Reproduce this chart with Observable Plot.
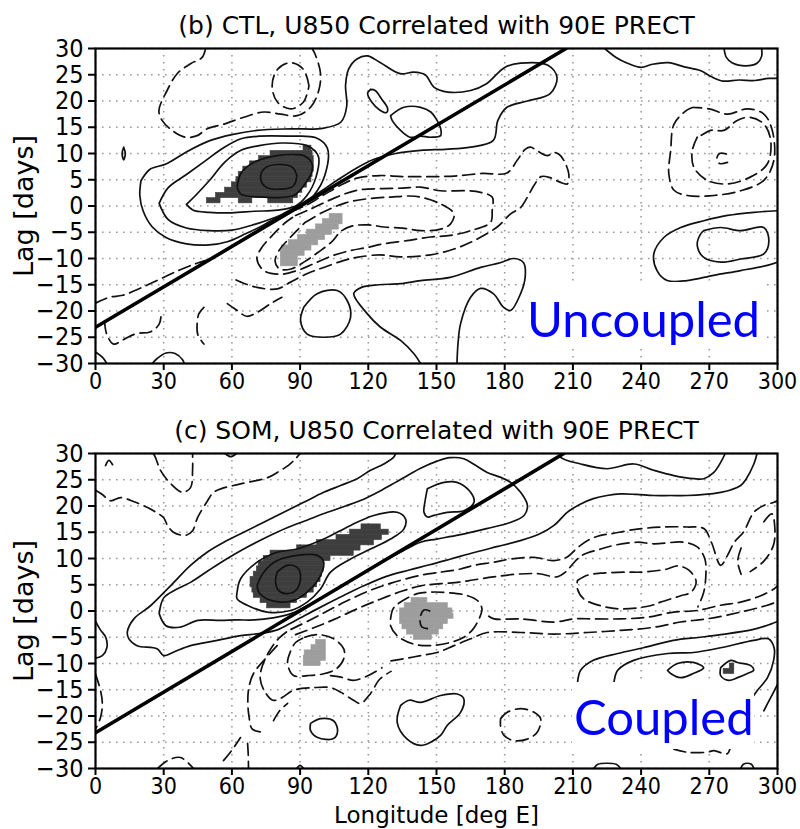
<!DOCTYPE html>
<html><head><meta charset="utf-8">
<script src="https://cdn.jsdelivr.net/npm/d3@7"></script>
<script src="https://cdn.jsdelivr.net/npm/@observablehq/plot@0.6"></script>
<style>
html,body{margin:0;padding:0;background:#fff;}
#wrap{position:relative;width:800px;height:829px;overflow:hidden;background:#fff;}
.panel{position:absolute;left:0;}
.box{position:absolute;background:#fff;}
.tag{position:absolute;color:#0000ff;font-family:Lato,"Open Sans",sans-serif;font-size:49px;line-height:49px;white-space:nowrap;}
</style></head><body>
<div id="wrap">
  <div id="p1" class="panel" style="top:0"></div>
  <div id="p2" class="panel" style="top:415px"></div>
  <div class="box" style="left:525px;top:282px;width:238px;height:67px"></div>
  <div class="tag" style="left:527px;top:294px">Uncoupled</div>
  <div class="box" style="left:572px;top:682px;width:182px;height:67px"></div>
  <div class="tag" style="left:574px;top:692px">Coupled</div>
</div>
<script>
// ---------- axes ----------
const lonTicks = [0,30,60,90,120,150,180,210,240,270,300];
const lagTicks = [-30,-25,-20,-15,-10,-5,0,5,10,15,20,25,30];

// ---------- titles ----------
const titleCTL = "(b) CTL, U850 Correlated with 90E PRECT";
const titleSOM = "(c) SOM, U850 Correlated with 90E PRECT";
const yLabel = "Lag [days]";
const xLabel = "Longitude [deg E]";

// ---------- phase-speed reference lines ----------
const ctlPhaseLon = [0, 207];
const ctlPhaseLag = [-23.1, 30];
const somPhaseLon = [0, 206];
const somPhaseLag = [-23.2, 30];

// ---------- shading rows: [lag, lon from, lon to] ----------
const ctlDark = [[11,91.5,95],[10,77,95.5],[9,72,96],[8,68,96],[7,65,96],[6,63,95.5],[5,62,95],[4,60,93],[3,57,91],[2,53,89],[1,49,55],[1,63,69],[1,76,87]];
const ctlLight = [[-2,103,108.7],[-3,100,108.7],[-4,97,107],[-5,93,104],[-6,89,101],[-7,85,98],[-8,82,95],[-9,81.5,92],[-10,81.5,89],[-11,81.5,89]];
const somDark = [[16,117,125.5],[15,112,129],[14,106,126],[13,97.5,122.5],[12,88.7,116.6],[11,77,113.6],[10,74,103.4],[9,71.8,100.4],[8,71,100.4],[7,69.6,99.7],[6,68.2,99],[5,68.2,97.5],[4,69,96],[3,69.6,93],[2,72.6,88.7],[1,75.5,85.8],[-10.5,279,281],[-11.5,276.3,281]];
const somLight = [[2,139,146],[1,136,155],[0,134,157],[-1,134,157.5],[-2,134,155],[-3,135,153],[-4,137,151],[-5,140,148],[-6,97,101.3],[-7,95,101.3],[-8,92,101.3],[-9,91.6,101.3],[-10,91.6,99]];

// ---------- contour lines: [lon, lag] ----------
const ctlSolid = [
 [[20,4.8],[19.5,2],[21,-1],[25,-4],[31,-6],[40,-7.2],[50,-7.4],[58,-6.8],[66,-5.3],[74,-3.6],[82,-1.6],[90,0.3],[98,2.5],[106,4.8],[114,7],[122,8.8],[132,10],[143,10.6],[154,10.8],[165,11.2],[175,12.5],[177,16.3],[181,18.8],[190,20],[200,21.4],[203,24.5],[199,26.8],[187,27.2],[180,26.4],[172,23.3],[165,22],[155,21.7],[149,22.6],[145,25],[140,25.5],[134,25.2],[125,27.4],[119.5,28.6],[115,28],[111.4,26.1],[110,23],[110.5,19],[108,16],[100,14.8],[86,14.7],[71,14.4],[60,13.6],[50,12.4],[40,10.3],[31,8],[24,7],[20,4.8]],
 [[28,0.5],[32,3.5],[40,6],[48,8.5],[56,11],[64,12.8],[72,13.3],[85,13.3],[97,13],[102,11],[101,6],[96,2],[90,-0.3],[80,-2],[70,-3.5],[60,-4.6],[50,-4.7],[40,-4.2],[32,-2.6],[28,0.5]],
 [[40,0.3],[44,2],[50,4.8],[57,8.4],[64,10.6],[72,11.5],[82,12],[93,11.5],[98,9.5],[97,5.5],[93,2],[88,0],[80,-0.8],[70,-1],[60,-1.3],[50,-1.2],[43,-0.8],[40,0.3]],
 [[62.3,3.6],[63.8,6.1],[67,7.6],[71.1,8.6],[80,9.6],[88,9.8],[91.6,9.6],[95.3,8],[95,6.3],[93.1,4.8],[90,3],[87.2,2],[80,1.6],[74,1.7],[67,1.9],[63.8,2.3],[62.3,3.6]],
 [[88.6,5.8],[86.5,7.4],[80.5,7.9],[74.5,7.2],[72.6,5.3],[75,3.6],[81,3.2],[87,3.8],[88.6,5.8]],
 [[12.4,11.2],[13.1,10],[12.4,8.8],[11.7,10],[12.4,11.2]],
 [[121,22.2],[119.7,21.5],[121.5,19.8],[125,18.3],[128,17.8],[128.5,18.6],[126,20.3],[123,22],[121,22.2]],
 [[129.8,17.2],[135.7,18.8],[143,18.8],[147.5,17.9],[150,16.5],[151.8,14.8],[151.8,13.4],[147.4,13.1],[143,13.3],[138.3,13.1],[134.2,14.4],[130.5,16.3],[129.8,17.2]],
 [[224,30],[229,28.3],[234,27.2],[240,26.4],[245,27],[252,27.3],[259,26.5],[266,25.8],[271,24.6],[276,23.8],[283,24],[290,23.9],[296,24.3],[300,24.3]],
 [[276.5,30],[277.5,28.3],[280,27.3],[286,26.7],[291,27.2],[293,28.5],[293,30]],
 [[300,-0.9],[289.6,-1.2],[278,-1.8],[267.6,-2.8],[257.4,-4.1],[250,-6],[245.6,-9.1],[247,-12.3],[251.5,-14.2],[260.3,-14.2],[272,-13.2],[283.8,-12.3],[295.5,-11.3],[300,-10.7]],
 [[267.6,-4.7],[275,-4.1],[283.8,-4.7],[294,-4.1],[296.2,-6.6],[294,-9.1],[283.8,-10.1],[275,-10.7],[267.6,-9.8],[264.7,-7.5],[266.2,-5.3],[267.6,-4.7]],
 [[143,-30],[140,-28.1],[134.2,-25.6],[125.4,-23.1],[119.5,-20.5],[113.6,-16.7],[117,-15.5],[124.5,-15],[134,-14.8],[143,-14.2],[156,-13.6],[169.4,-11.7],[178,-10.8],[184,-10],[188.3,-10.8],[189,-13.6],[187,-16.7],[182.6,-19.9],[179.5,-19.3],[175,-16.7],[169.4,-15.7],[165,-17.4],[160.6,-22.4],[159.5,-26],[159,-30]],
 [[91.6,-19.3],[97.5,-16.7],[106.3,-16.1],[110.7,-18],[112.2,-21.2],[107.8,-24.4],[100.4,-25],[93.1,-24.4],[90.2,-21.8],[91.6,-19.3]],
 [[0,-27.8],[3,-28.8],[5,-30]],
 [[25,-30],[27,-29.1],[31,-28],[35,-28.1],[38.3,-29.3],[39,-30]]
];
const ctlDashed = [
 [[48.4,30],[46.9,28.3],[41.8,27.1],[35.9,25.2],[31.5,22],[27.9,18.2],[29.3,16.3],[33.7,14.4],[39.6,13.1],[44.7,13.4],[49.1,14.7],[56.5,15.6],[65.2,16.9],[74,17.9],[81.4,17.5],[88.7,17.2],[94.6,18.8],[98.2,22],[99,25.2],[96.8,28.7],[95.3,30]],
 [[93.9,22.9],[91.5,26],[85.8,27.3],[80,26],[77.7,22.9],[80,19.8],[85.8,18.5],[91.5,19.8],[93.9,22.9]],
 [[86,-1],[92,0],[100,2],[108,4],[115,5.3],[125,5.8],[135,5.6],[147,5.6],[158,5.7],[170,6.2],[181,6.3],[185.5,8.7],[189,10.8],[191.4,11.2],[194.3,10.5],[198.7,9.6],[201.7,10.2],[204,9.8],[206,8.7],[208.2,6.1],[207.5,4.2],[204,4.6],[200,5.4],[196,5.6],[193,4],[190,1.7],[187,-0.3],[182.6,-1.5],[176.7,-4],[166.5,-6.6],[157.7,-8.2],[147.4,-9.3],[134,-9.7],[125,-9.3],[115,-9.8],[109,-10.4],[100.4,-11.7],[93,-12.9],[85.8,-14.5],[80,-15.8],[71,-15.5],[64,-14.5],[60,-13.7]],
 [[88,-1.8],[95,-0.5],[105,1.5],[115,3],[125,3.3],[135,3.4],[143,3.6],[151.8,2.9],[163.5,2.9],[169.4,2.6],[174.5,1.7],[174.5,-0.9],[173.8,-3.1],[165,-4.7],[156.2,-5.6],[147.4,-5.9],[137,-6.6],[126.8,-7.2],[119.5,-7.9],[112,-8.5],[104,-9.5],[96,-11],[88.7,-12.3],[81.4,-13],[74,-12.3],[71,-10],[73,-8],[78,-5.5],[84,-3],[88,-1.8]],
 [[92,-3.2],[100,-1.2],[110,0.6],[120,1.4],[130,1.7],[138,1.9],[143,1.7],[151.8,0.4],[157.7,-1.5],[156.2,-3.4],[151.8,-4.4],[143,-4.7],[135,-4.2],[127,-4],[120,-3.6],[113,-3.8],[108,-4.8],[104,-6.8],[98,-8.8],[92,-10.6],[86,-12],[81,-12],[79,-10.5],[81,-8.3],[85,-6.3],[89,-4.5],[92,-3.2]],
 [[0,-18.5],[6,-17.4],[12,-17],[20,-15.6],[28,-14],[37,-12.2],[44,-11],[50,-10.2]],
 [[47.7,-19.3],[45.5,-20.5],[44.7,-22.5],[45,-24.5],[47.7,-26.3]],
 [[4,-22],[5,-24.5],[8,-26.3],[12,-25.5],[18,-24.3],[24,-24],[28,-22.5],[29,-20]],
 [[58,-18.6],[62,-19.8],[66.5,-21],[71,-20.3],[77,-18.6],[82,-17.4]],
 [[263,18.8],[260.3,18.3],[254.5,15.6],[253,10.5],[252.2,6.1],[254.5,3],[260.3,2],[272,2],[283.8,2.9],[294,4.9],[298.4,8.7],[297.7,14.4],[294,17.5],[286.7,18.5],[278,17.5],[270,18.5],[263,18.8]],
 [[264.7,13.1],[262.5,10.5],[263.2,7.4],[269,4.9],[278,4.2],[288,5.5],[295.5,8],[297,12.5],[294,15.6],[288,16.9],[282.3,16.3],[276.4,14.4],[270.6,14.4],[266.2,13.4],[264.7,13.1]],
 [[277.5,9.9],[274.5,10],[273.3,9],[274.5,8.1],[278,8.3]]
];

const somSolid = [
 [[132,30],[131.2,29.3],[126.8,28],[121,26.8],[115.1,25.2],[107.8,23.9],[100.4,22.6],[91.6,20.7],[82.8,18.8],[74,16.9],[65.2,15],[56.5,13.1],[49.1,11.2],[41.8,8.7],[33,4.8],[24.2,1],[16.9,-1.5],[14,-4],[14.7,-5.3],[18.3,-6.6],[27.1,-7.2],[30,-8.5],[34.5,-7.8],[41.8,-6.6],[53.5,-5.6],[63.8,-4.7],[72,-4.3],[80,-3.6],[88,-1.8],[98,0.5],[108,2.7],[118,4.8],[128,6.6],[138,7.8],[147,8.8],[157,10],[167,11.2],[177,12.3],[186,13.3],[195,14.6],[201.7,16.3],[207.5,18.8],[213,20.3],[219,21.4],[225,22],[231,22.3],[238,22.2],[245.6,22],[253,22],[260.3,22],[268,22.2],[275,22.6],[279,23],[283.8,23.9],[286,25],[289.6,28],[291,30]],
 [[28,-0.5],[30,2.5],[35,4],[42,5.5],[50,7.8],[58,10],[66,12],[75,14],[84,15.8],[93,17.3],[102,18.8],[110,20],[118,21.3],[125,22.8],[132,24.5],[138,26],[143,27.2],[150,28.5],[156,29.2],[162,29],[167,27.8],[172.3,26.4],[178,25.5],[182.6,24.5],[187,22.6],[190,20.1],[188.5,18.2],[182,16.8],[172,15.7],[160,14.5],[150,13.7],[143,13.1],[135,11.4],[125,9.2],[115,6.6],[105,4],[95,1.5],[86,-0.5],[78,-1.3],[70,-1.7],[62,-1.7],[55,-1.8],[45,-1.8],[37,-3.1],[31,-2.8],[28,-0.5]],
 [[62.3,3.6],[63.8,6.1],[71.1,9.3],[79.9,11.2],[88.7,11.8],[100.4,13.7],[112.2,16.3],[122.4,18.2],[132.7,18.8],[136.4,17.5],[135.6,15.6],[129.8,13.7],[121,11.8],[112.2,9.9],[103.4,7.4],[99,4.2],[93.1,1.7],[85.8,0.1],[75.5,-0.2],[66.7,1.1],[62.3,2.3],[62.3,3.6]],
 [[71.1,4.9],[74,7.4],[79.9,9.6],[88.7,10.6],[97.5,10.6],[100.4,9.3],[99,6.8],[94.6,4.2],[88.7,2.3],[81.4,1.7],[75.5,2.3],[71.8,3.6],[71.1,4.9]],
 [[79.9,7.4],[84.3,8.7],[88.7,8.3],[90.2,6.8],[88.7,4.2],[84.3,3.3],[80.6,3.9],[79.2,5.5],[79.9,7.4]],
 [[146,23.3],[153.3,24.5],[159,24.5],[165,22.6],[166.5,20.7],[162,19.1],[154.7,18.8],[148.9,18.2],[146,17.9],[144.5,18.8],[145,21],[146,23.3]],
 [[204.6,30],[204.6,29.3],[213.4,28],[225,27.1],[236.8,28],[245.6,26.8],[254.4,25.8],[263.2,25.2],[267.6,25.2],[272,26.4],[275,28.3],[277,30]],
 [[57,30],[59.5,29.4],[62,30]],
 [[0,-2],[2,-3.5],[4.5,-5],[5,-7],[3,-8.5],[0,-9]],
 [[94.6,-21.4],[99,-20.5],[104.7,-20.9],[106.5,-22.8],[104.7,-24.3],[97.7,-24.1],[94.6,-22.8],[94.6,-21.4]],
 [[134.2,-18],[138,-17],[143,-17.4],[151.8,-16.1],[159.1,-15.8],[162,-16.7],[160.6,-19.3],[154.7,-21.8],[151.8,-23.7],[147.4,-25],[143,-25.6],[137.1,-24.4],[132.7,-21.2],[134.2,-18]],
 [[212,-15.5],[212,-13.8],[213.4,-11.3],[219,-9.4],[229.7,-8.1],[241,-7],[254.2,-5.6],[266,-5],[275,-4.5],[289.4,-3.5],[297,-2.5],[300,-2]],
 [[228,-15.5],[228,-13.8],[229.7,-11.3],[236.7,-9.4],[251.7,-8.1],[263,-7.9],[275,-7],[289.5,-5.6],[296,-5.3],[298.5,-7],[298.3,-9.4],[295.6,-12.7],[291.2,-15.1],[288,-17],[285,-18.5]],
 [[251.6,-11.3],[256,-10],[263,-9.8],[267.5,-10.8],[263,-11.9],[257.4,-12.7],[253,-11.9],[251.6,-11.3]],
 [[275,-10.8],[279.4,-9.4],[282.4,-9.8],[288.2,-10.4],[289.5,-11.3],[286.8,-11.9],[282.4,-12.7],[278.5,-13.2],[275,-12.3],[275,-10.8]],
 [[300,-14],[297,-16.5],[294,-19]],
 [[219.2,-30],[221,-29.2],[225,-29],[229,-29.2],[231,-30]],
 [[283.8,-30],[285,-29.2],[286.7,-29],[288.5,-29.2],[289.6,-30]],
 [[88.5,-30],[90,-29.4],[91.5,-30]]
];
const somDashed = [
 [[0,23],[3,22.2],[6.6,21],[11,21.6],[17,20.8],[22.9,19.7],[27,18.7],[29.9,17.8],[31.7,16.3],[34.3,15],[39.6,14.4],[42.7,15.3],[44.9,17.8],[49.3,21],[51.9,22.6],[56,23.4],[60.7,23.9],[66.9,24.5],[75.7,25.4],[80,26.4],[85,27.8],[88,29],[90,30]],
 [[25.5,30],[26.4,29.2],[28.6,26.8],[33,24.3],[38.3,22.6],[41.8,23.5],[42.7,26.8],[42.7,30]],
 [[4.4,27.7],[5.9,28.7],[7.6,27.8]],
 [[86,-3.5],[94,-1.8],[102,0],[110,1.8],[120,3.8],[130,5.3],[143,6.8],[151.8,7.4],[160.6,8],[166.5,8.7],[175.3,9.3],[182.6,9.9],[192.9,10.2],[201.7,9.6],[207.5,10.3],[211.9,12],[216.3,13.4],[222.2,14.4],[226.6,14.7],[238.3,15.6],[250,16],[260.3,16],[267.6,15.7],[271,13],[275,8.7],[278,10.6],[281,13.1],[285,15],[289.6,18.8],[294,20.1],[298.4,20.7],[300,21]],
 [[88,-4.5],[96,-3.2],[105,-1.6],[115,0.4],[125,2.2],[135,3.8],[143,4.8],[152,5.2],[160,5.5],[166,5.9],[175,6.5],[185,7],[195,7.1],[203,6.5],[207,7.5],[210,9],[214,10.6],[222.2,11.8],[228,12.5],[238.3,13.1],[245.6,12.8],[258.8,13.1],[264.7,12.2],[268,10],[268.5,7],[267.5,3.5],[265,0.8]],
 [[212,5.8],[216.3,6.8],[222.2,7.2],[234,7.4],[240,7.4],[251.5,8],[256,8.6],[261,7.8],[264.2,5.6],[262,3.6],[257.4,2.9],[248.6,1.7],[244,1],[231,0.4],[222.2,1],[214.8,2.3],[212,4.2],[212,5.8]],
 [[173,-1],[175.3,-1.5],[187,-1.5],[201.7,-2.1],[210.5,-1.5],[219.2,-1.5],[231,-1.5],[242.7,-1.2],[254.4,-0.2],[264.7,0.1],[275,1.1],[283.8,1.7],[292.6,2.9],[298.4,4.2],[300,4.8]],
 [[130,-9.5],[137,-9],[143,-8.5],[150.3,-7.9],[157.7,-6.6],[165,-5.3],[172.3,-4.1],[187,-4.1],[201.7,-4.4],[216.3,-4.1],[231,-3.7],[245.6,-3.1],[257.4,-2.1],[269,-1.5],[283.8,-0.2],[295.5,1.1],[300,1.8]],
 [[129.8,-1.5],[131,0.5],[134.2,1.7],[141.5,3.3],[147.4,3.6],[155,3.5],[163,3],[168,2],[170,0.4],[168.7,-1.5],[166,-3.5],[162,-5],[156,-6],[147.4,-6.6],[140,-6.3],[132.7,-4.7],[129.8,-2.8],[129.8,-1.5]],
 [[147,0],[144.5,0.2],[142.8,-1.3],[143.5,-3],[146.5,-3.4]],
 [[92,-5],[98,-4.5],[104.8,-5.3],[109.2,-7.2],[109.2,-9.1],[106,-11],[100,-12],[93.3,-12.3],[87.1,-12.3],[84.5,-10],[85.5,-8],[88,-6],[92,-5]],
 [[84,-4],[80,-5.5],[76,-8],[73,-11],[72.5,-13],[74,-15],[78,-17],[82,-16.5],[87.1,-15.1],[95.9,-14.6],[103.4,-14.6],[108,-15.5],[113.5,-17],[116.6,-17.6],[121,-15.7],[125,-13],[130,-11.5]],
 [[79.9,-6.6],[74.5,-9.2],[69.5,-11.9],[67.5,-14.5],[67,-17],[67.5,-20],[69,-22.5],[74,-23.1]],
 [[78.3,-20.9],[81,-19],[84.5,-17.6]],
 [[103.4,-12.3],[108,-12.6],[113.5,-13.2],[120,-12.3],[126,-10.8]],
 [[56.3,-28.5],[60,-26.5],[63.8,-24.1]],
 [[66.9,-25.2],[67.2,-27.5],[67.3,-30]],
 [[27.3,-30],[31.7,-28.5],[37.4,-27.9],[43.1,-30]],
 [[0,-12],[2.2,-15.1],[3,-17.6],[2.2,-20.3],[0,-22.5]],
 [[178.2,-20.5],[181.1,-19.3],[187,-18.6],[192.9,-19.3],[195.8,-20.5],[194.3,-23.1],[189.9,-24.4],[184.1,-24.7],[179.7,-23.7],[178.2,-22],[178.2,-20.5]],
 [[254.4,-26.3],[260.3,-26.9],[269,-26.9],[272,-26.6],[277.9,-27.2],[279.4,-25.9],[280.8,-25]],
 [[294,17],[297.5,18.5],[298.8,16],[298.2,12.5],[294,9.5],[288,7.5]],
 [[284,12],[282.5,9.5],[284,7]]
];

// ---------- helpers ----------
const flat = paths => paths.flatMap((p, i) => p.map(([lon, lag]) => ({lon, lag, k: i})));
const rows = r => r.map(([lag, a, b]) => ({x1: a, x2: b, y1: lag - 0.5, y2: lag + 0.5}));
const phase = (lons, lags) => lons.map((lon, i) => ({lon, lag: lags[i]}));
const minus = d => d < 0 ? "\u2212" + (-d) : String(d);
const tickFont = "'Liberation Sans Narrow','DejaVu Sans Condensed','DejaVu Sans',sans-serif";
const labelFont = "'DejaVu Sans',sans-serif";

function panel(c) {
  const marks = [
    Plot.gridX(lonTicks, {stroke: "#9a9a9a", strokeOpacity: 1, strokeWidth: 1.6, strokeDasharray: "1.6,5.4"}),
    Plot.gridY(lagTicks, {stroke: "#9a9a9a", strokeOpacity: 1, strokeWidth: 1.6, strokeDasharray: "1.6,5.4"}),
    Plot.rect(rows(c.light), {x1: "x1", x2: "x2", y1: "y1", y2: "y2", fill: "#9d9d9d", stroke: "#9d9d9d", strokeWidth: 0.6}),
    Plot.rect(rows(c.dark), {x1: "x1", x2: "x2", y1: "y1", y2: "y2", fill: "#3e3e3e", stroke: "#3e3e3e", strokeWidth: 0.6}),
    Plot.line(flat(c.solid), {x: "lon", y: "lag", z: "k", curve: "catmull-rom", stroke: "#111", strokeWidth: 1.7, clip: true}),
    Plot.line(flat(c.dashed), {x: "lon", y: "lag", z: "k", curve: "catmull-rom", stroke: "#111", strokeWidth: 1.7, strokeDasharray: "12,6", clip: true}),
    Plot.line(phase(c.pLon, c.pLag), {x: "lon", y: "lag", stroke: "#000", strokeWidth: 3.6, clip: true}),
    Plot.frame({stroke: "#000", strokeWidth: 2.2}),
    Plot.axisX(lonTicks, {anchor: "bottom", tickSize: 7, tickPadding: 2, strokeWidth: 2, fontSize: 23, label: null, tickFormat: minus}),
    Plot.axisY(lagTicks, {anchor: "left", tickSize: 7, tickPadding: 5, strokeWidth: 2, fontSize: 25, label: null, tickFormat: minus}),
    Plot.text([c.title], {frameAnchor: "top", dy: -23, lineAnchor: "middle", fontSize: 25, fontFamily: labelFont, fill: "#000"}),
    Plot.text([yLabel], {frameAnchor: "left", dx: -71, rotate: -90, textAnchor: "middle", lineAnchor: "middle", fontSize: 27, fontFamily: labelFont, fill: "#000"})
  ];
  if (c.xlab) marks.push(Plot.text([xLabel], {frameAnchor: "bottom", dy: 47, textAnchor: "middle", lineAnchor: "middle", fontSize: 23, fontFamily: labelFont, fill: "#000"}));
  return Plot.plot({
    width: 800, height: c.height,
    marginLeft: 95, marginRight: 23, marginTop: c.mt, marginBottom: c.mb,
    x: {domain: [0, 300]}, y: {domain: [-30, 30]},
    style: {fontFamily: tickFont, background: "transparent", color: "#000", overflow: "visible"},
    marks
  });
}

document.getElementById("p1").append(panel({
  height: 415, mt: 48, mb: 52, title: titleCTL, solid: ctlSolid, dashed: ctlDashed,
  dark: ctlDark, light: ctlLight, pLon: ctlPhaseLon, pLag: ctlPhaseLag, xlab: false
}));
document.getElementById("p2").append(panel({
  height: 414, mt: 38, mb: 61, title: titleSOM, solid: somSolid, dashed: somDashed,
  dark: somDark, light: somLight, pLon: somPhaseLon, pLag: somPhaseLag, xlab: true
}));
</script>
</body></html>
